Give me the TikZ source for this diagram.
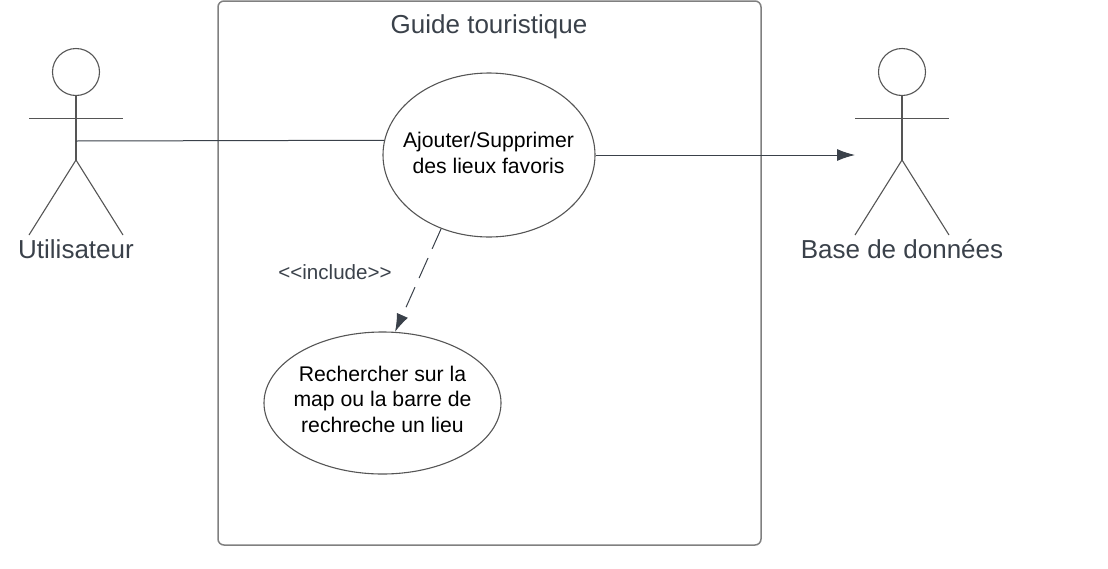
\documentclass[tikz,border=0pt]{standalone}
\usepackage{fontspec}
\setmainfont{Liberation Sans}
\usetikzlibrary{shapes.geometric,arrows.meta}
\definecolor{inkgray}{HTML}{3A414A}
\definecolor{linegray}{HTML}{555555}
\tikzset{
    usecase/.style={draw=linegray, line width=1.1pt, ellipse, inner sep=0pt},
    casetext/.style={align=center, text=black, font=\fontsize{21.2}{25.5}\selectfont},
    actorname/.style={text=inkgray, font=\fontsize{26}{30}\selectfont},
    flow/.style={draw=inkgray, line width=1pt, -{Latex[length=18pt,width=12pt]}}
}
\newcommand{\actor}[1]{
    \draw[linegray, line width=1.1pt] (#1,72) circle (23.5);
    \draw[linegray, line width=1.1pt] (#1,95.5) -- (#1,160);
    \draw[linegray, line width=1.1pt] (#1-47,118.5) -- (#1+47,118.5);
    \draw[linegray, line width=1.1pt] (#1-47,235) -- (#1,160) -- (#1+47,235);
}
\begin{document}
\begin{tikzpicture}[x=1pt, y=-1pt]
    \useasboundingbox (0,0) rectangle (1108,568);

    % System
    \draw[gray, line width=1.5pt, rounded corners=6pt] (218,1) rectangle (761,545);
    \node[text=inkgray, font=\fontsize{26}{30}\selectfont] (system) at (489,26.5) {Guide touristique};

    % Actors
    \actor{76}
    \node[actorname] (user) at (76,249) {Utilisateur};
    \actor{902}
    \node[actorname] (db) at (902,249) {Base de données};
    \coordinate (userhand) at (76,141);
    \coordinate (dbhand) at (855,155);

    % Use cases
    \node[usecase, minimum width=212pt, minimum height=164pt] (favoris) at (489,155) {};
    \node[casetext] (favoristext) at (488.5,153) {Ajouter/Supprimer\\des lieux favoris};
    \node[usecase, minimum width=237pt, minimum height=142pt] (search) at (382.5,403) {};
    \node[casetext] (searchtext) at (382.5,399) {Rechercher sur la\\map ou la barre de\\rechreche un lieu};

    % Links
    \draw[draw=inkgray, line width=1pt] (userhand) -- (favoris.172.7);
    \draw[flow] (favoris.east) -- (dbhand);
    \draw[flow, dash pattern=on 22pt off 10pt] (favoris.-123.8) -- (search.80.8);
    \node[text=inkgray, font=\fontsize{20.6}{24}\selectfont] (include) at (335,272) {<{}<include>{}>};
\end{tikzpicture}
\end{document}
